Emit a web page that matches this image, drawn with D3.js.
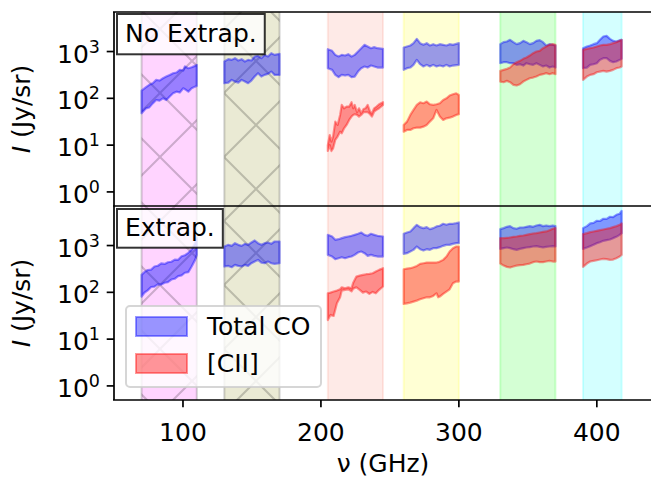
<!DOCTYPE html>
<html><head><meta charset="utf-8">
<script src="https://cdn.jsdelivr.net/npm/d3@7"></script>
<style>
html,body{margin:0;padding:0;background:#fff;}
text{font-family:"DejaVu Sans",sans-serif;}
</style></head>
<body><svg id="chart" width="651" height="479"></svg>
<script>
// ---------------- DATA ----------------
const bandRanges = [[70,110],[130,170],[205,245],[260,300],[330,370],[390,418]];
const bandColors = ["#ff00ff","#808000","#fa8072","#ffff00","#00ff00","#00ffff"];
const bandHatched = [true,true,false,false,false,false];
const xTicks = [100,200,300,400];
const yTickExps = [0,1,2,3];
const panelLabels = ["No Extrap.","Extrap."];
const seriesNames = ["Total CO","[CII]"];

// frequency grids (GHz)
const nu1 = [70,73.2,75.6,78.1,80.6,83.0,85.5,87.9,90.4,92.8,95.3,97.7,100.2,101.4,103.9,106.3,108.8,110];
const nu1b = [70,72.0,74.4,76.9,79.3,81.8,84.2,86.7,89.1,91.6,94.0,96.5,99.0,101.4,103.9,106.3,108.8,110];
const nu2 = [130,132.9,135.3,137.7,140.1,142.5,144.9,147.2,149.6,152,154.4,156.8,159.2,161.6,164,166.4,170];
const nu3 = [205,208.1,210.4,212.8,215.1,217.5,219.8,222.2,224.5,226.9,229.2,231.6,233.9,236.3,238.6,241,245];
const nu3c = [205,206.4,207.6,208.8,210.4,212.1,213.9,215.1,216.8,218.6,220.5,222.2,223.4,224.5,226.2,227.6,229.2,230.9,232.3,233.9,235.6,237,238.6,240.3,242.2,245];
const nu3cb = [205,206.9,209.2,211.6,213.9,215.1,217.5,219.8,222.2,223.4,225.7,228.1,230.4,232.8,235.1,237.5,239.8,242.2,245];
const nu4 = [260,262.4,264.8,267.1,269.5,271.9,274.3,276.7,279,281.4,283.8,286.2,288.6,291,293.3,295.7,300];
const nu4c = [260,262.4,264.8,267.1,269.5,271.9,274.3,276.7,279,281.4,283.8,286.2,288.6,291,293.3,295.7,298.1,300];
const nu4cb = [260,262.4,264.8,267.1,269.5,271.9,274.3,276.7,279,281.4,283.8,285,286.2,288.6,291,293.3,295.7,298.1,300];
const nu5 = [330,332.4,334.8,337.1,339.5,341.9,344.3,346.7,349,351.4,353.8,356.2,358.6,361,363.3,365.7,368.1,370];
const nu6 = [390,392.8,395.2,397.6,400,402.3,404.7,407.1,409.5,411.8,414.2,416.6,418];

// ---- No Extrap. (Jy/sr) ----
const noCoLo1 = [48,61,64,78,92,89,100,92,109,128,139,133,164,157,139,164,178,184];
const noCoHi1 = [146,173,194,210,248,240,269,292,317,344,356,406,393,479,441,463,494,519];
const noCoLo2 = [210,217,248,228,217,248,228,210,240,292,345,292,317,333,373,317,317];
const noCoHi2 = [612,687,664,721,643,687,612,664,643,783,809,721,849,783,923,849,893];
const noCoLo3 = [441,406,318,283,318,307,318,283,292,373,441,479,455,502,479,455,455];
const noCoHi3 = [1124,1035,849,783,849,822,879,783,849,1002,1180,1390,1282,1180,1241,1180,1143];
const noCiiLo3 = [7.5,10.0,7.5,8.5,12.9,15.2,19.4,17.9,22.9,27.0,34.5,40.7,44.2,45.6,44.2,40.7,44.2,50.4,50.4,50.4,45.6,40.7,52.0,56.5,61.3,72.3];
const noCiiHi3 = [10.0,16.4,11.9,15.2,31.8,27.0,44.2,72.3,61.3,66.5,66.5,82.4,61.3,72.3,50.4,61.3,47.9,59.3,61.3,72.3,52.0,47.9,61.3,66.5,74.6,82.4];
const noCoLo4 = [406,441,455,519,664,536,479,519,479,519,479,502,479,519,479,502,519];
const noCoHi4 = [1220,1282,1346,1511,1870,1511,1390,1511,1346,1439,1346,1439,1390,1346,1439,1390,1511];
const noCiiLo4 = [19.4,21.1,21.1,22.9,23.6,23.6,24.8,27.0,31.8,37.4,56.5,40.7,34.5,37.4,38.6,40.7,44.2,45.6];
const noCiiHi4 = [27.0,31.8,44.2,56.5,72.3,82.4,78.5,85.2,74.6,72.3,74.6,78.5,92.5,100,115,122,128,118];
const noCoLo5 = [564,592,592,564,564,519,536,502,564,536,519,564,519,479,502,455,479,455];
const noCoHi5 = [1439,1588,1640,1781,1588,1439,1511,1694,1588,1439,1511,1694,1750,1588,1346,1439,1390,1346];
const noCiiLo5 = [228,221,236,221,194,188,200,228,248,269,278,292,317,328,345,328,345,328];
const noCiiHi5 = [386,406,426,455,536,592,632,698,745,822,923,1002,1035,1180,1282,1390,1439,1390];
const noCoLo6 = [441,455,519,536,564,664,721,721,632,592,612,664,698];
const noCoHi6 = [1180,1282,1346,1439,1511,1781,2100,2168,1870,1694,1640,1750,1781];
const noCiiLo6 = [248,292,317,328,361,373,386,373,386,406,441,455,479];
const noCiiHi6 = [1087,1143,1180,1220,1282,1346,1390,1390,1439,1511,1588,1694,1781];

// ---- Extrap. (Jy/sr) ----
const exCoLo1 = [81,98,110,130,132,148,146,160,165,188,195,222,230,262,270,356,494,632];
const exCoHi1 = [236,270,300,305,356,370,415,405,440,450,500,495,590,620,700,820,1125,1439];
const exCoLo2 = [356,367,344,386,367,356,386,367,419,455,494,433,419,455,419,406,419];
const exCoHi2 = [953,1035,986,1125,1035,986,1087,1035,1161,1282,1125,1035,1125,1161,1087,1220,1220];
const exCoLo3 = [632,582,511,536,564,536,564,582,632,710,745,687,603,632,603,582,582];
const exCoHi3 = [1694,1560,1324,1368,1439,1511,1560,1614,1694,1781,1901,1694,1614,1781,1694,1614,1560];
const exCiiLo3 = [25.6,32.8,31.2,58.3,78.4,109,113,116,105,120,128,113,98.6,104,92.5,102,95.5,113,133];
const exCiiHi3 = [95.5,98.6,104,109,116,128,122,128,122,161,217,228,236,244,248,256,278,302,328];
const exCoLo4 = [664,687,745,809,953,836,783,836,809,879,879,923,986,1035,1035,1087,1125,1125];
const exCoHi4 = [1781,1901,1999,2355,2773,2472,2355,2472,2240,2355,2560,2644,2917,2773,2917,2917,3013,3113];
const exCiiLo4 = [56.5,58.3,60.3,63.2,66.5,71.0,74.6,78.4,78.4,83.7,95.5,78.4,81.1,92.5,104,116,156,170,170];
const exCiiHi4 = [312,322,328,344,367,406,419,433,433,433,433,441,455,494,582,745,879,953,953];
const exCoLo5 = [849,879,908,879,836,809,849,879,908,923,953,968,938,908,938,953,968,953];
const exCoHi5 = [2240,2355,2512,2600,2355,2280,2432,2432,2512,2600,2512,2685,2773,2600,2685,2600,2685,2600];
const exCiiLo5 = [412,373,350,339,356,373,380,386,399,412,441,455,441,441,455,471,455,455];
const exCiiHi5 = [1439,1439,1462,1486,1535,1560,1614,1640,1694,1750,1810,1840,1901,1963,1999,2133,2280,2355];
const exCoLo6 = [849,908,968,1035,1125,1180,1262,1303,1346,1439,1535,1694,1840];
const exCoHi6 = [2355,2600,2965,3050,3380,3350,3730,3700,4120,4050,4540,4800,5530];
const exCiiLo6 = [350,412,455,471,486,502,519,511,494,502,537,582,632];
const exCiiHi6 = [1750,1840,1932,1999,2065,2133,2203,2280,2355,2477,2600,2773,2965];

// ---------------- BUILD ----------------
const panels = [
  { label: panelLabels[0],
    co: [[nu1,noCoLo1,noCoHi1],[nu2,noCoLo2,noCoHi2],[nu3,noCoLo3,noCoHi3],[nu4,noCoLo4,noCoHi4],[nu5,noCoLo5,noCoHi5],[nu6,noCoLo6,noCoHi6]],
    cii: [[nu3c,noCiiLo3,noCiiHi3],[nu4c,noCiiLo4,noCiiHi4],[nu5,noCiiLo5,noCiiHi5],[nu6,noCiiLo6,noCiiHi6]] },
  { label: panelLabels[1],
    co: [[nu1b,exCoLo1,exCoHi1],[nu2,exCoLo2,exCoHi2],[nu3,exCoLo3,exCoHi3],[nu4c,exCoLo4,exCoHi4],[nu5,exCoLo5,exCoHi5],[nu6,exCoLo6,exCoHi6]],
    cii: [[nu3cb,exCiiLo3,exCiiHi3],[nu4cb,exCiiLo4,exCiiHi4],[nu5,exCiiLo5,exCiiHi5],[nu6,exCiiLo6,exCiiHi6]] }
];

const svg = d3.select("#chart");
const FS = 25;
const L = 114, R = 652;
const panelY = [[12,206],[206,400]];
const x = d3.scaleLinear().domain([50,440]).range([L,R]);

const defs = svg.append("defs");
const P = 64;
defs.append("pattern").attr("id","hatch").attr("patternUnits","userSpaceOnUse")
  .attr("x",160).attr("y",157).attr("width",P).attr("height",P)
  .append("path")
  .attr("d",`M-10,-10L${P+10},${P+10} M-10,${P-10}L10,${P+10} M${P-10},-10L${P+10},10 M${P+10},-10L-10,${P+10} M-10,10L10,-10 M${P-10},${P+10}L${P+10},${P-10}`)
  .attr("stroke","#000").attr("stroke-opacity",0.2).attr("stroke-width",2).attr("fill","none");

panels.forEach((p,pi)=>{
  const [top,bot] = panelY[pi];
  const y = d3.scaleLog().domain([0.5,7000]).range([bot,top]);
  defs.append("clipPath").attr("id","clip"+pi).append("rect")
    .attr("x",L).attr("y",top).attr("width",R-L).attr("height",bot-top);
  const g = svg.append("g").attr("clip-path",`url(#clip${pi})`);
  // bands
  bandRanges.forEach((b,i)=>{
    g.append("rect").attr("x",x(b[0])).attr("y",top-2).attr("width",x(b[1])-x(b[0])).attr("height",bot-top+4)
      .attr("fill",bandColors[i]).attr("fill-opacity",0.17)
      .attr("stroke",bandHatched[i]?"#000":bandColors[i]).attr("stroke-opacity",bandHatched[i]?0.18:0.17).attr("stroke-width",2);
    if(bandHatched[i]){
      g.append("rect").attr("x",x(b[0])).attr("y",top-2).attr("width",x(b[1])-x(b[0])).attr("height",bot-top+4)
        .attr("fill","url(#hatch)");
    }
  });
  const drawSet = (set,color)=>{
    set.forEach(([nu,lo,hi])=>{
      const pts = nu.map((f,k)=>[f,lo[k],hi[k]]);
      const d = "M" + pts.map(q=>`${x(q[0])},${y(q[2])}`).join("L") + "L" +
                pts.slice().reverse().map(q=>`${x(q[0])},${y(q[1])}`).join("L") + "Z";
      g.append("path").attr("d",d).attr("fill",color).attr("fill-opacity",0.4)
        .attr("stroke",color).attr("stroke-opacity",0.4).attr("stroke-width",2.2).attr("stroke-linejoin","round");
    });
  };
  drawSet(p.co,"#0000ff");
  drawSet(p.cii,"#ff0000");

  // y ticks
  yTickExps.forEach(e=>{
    const yy = y(Math.pow(10,e));
    svg.append("line").attr("x1",L-7.3).attr("x2",L).attr("y1",yy).attr("y2",yy).attr("stroke","#000").attr("stroke-width",1.7);
    const t = svg.append("text").attr("x",100).attr("y",yy+11).attr("text-anchor","end").attr("font-size",FS).attr("fill","#000");
    t.append("tspan").text("10");
    t.append("tspan").attr("dy",-10).attr("font-size",17.5).text(String(e));
  });
  // y label
  const yl = svg.append("text").attr("transform",`translate(30,${(top+bot)/2}) rotate(-90)`)
    .attr("text-anchor","middle").attr("font-size",FS);
  yl.append("tspan").attr("font-style","italic").text("I");
  yl.append("tspan").text(" (Jy/sr)");

  // text box
  const tb = svg.append("g");
  const tx = tb.append("text").attr("x",125).attr("y",pi===0?42:236).attr("font-size",FS).text(p.label);
  const bb = tx.node().getBBox();
  tb.insert("rect","text").attr("x",117).attr("y",pi===0?14:209).attr("width",bb.x+bb.width+8-117).attr("height",pi===0?40.3:38.7)
    .attr("fill","#fff").attr("fill-opacity",0.8).attr("stroke","#000").attr("stroke-opacity",0.8).attr("stroke-width",2);
});

// spines
[12,206,400].forEach(yy=>{
  svg.append("line").attr("x1",L-1).attr("x2",R).attr("y1",yy).attr("y2",yy).attr("stroke","#000").attr("stroke-width",1.7);
});
svg.append("line").attr("x1",L).attr("x2",L).attr("y1",12).attr("y2",400).attr("stroke","#000").attr("stroke-width",1.7);

// x axis
xTicks.forEach(v=>{
  svg.append("line").attr("x1",x(v)).attr("x2",x(v)).attr("y1",400).attr("y2",407.3).attr("stroke","#000").attr("stroke-width",1.7);
  svg.append("text").attr("x",x(v)).attr("y",441).attr("text-anchor","middle").attr("font-size",FS).text(v);
});
svg.append("text").attr("x",(L+R)/2).attr("y",472).attr("text-anchor","middle").attr("font-size",FS).text("ν (GHz)");

// legend
const lg = svg.append("g");
lg.append("rect").attr("x",126).attr("y",306).attr("width",195).attr("height",81).attr("rx",4)
  .attr("fill","#fff").attr("fill-opacity",0.8).attr("stroke","#ccc").attr("stroke-opacity",0.8).attr("stroke-width",2);
const legColors = ["#0000ff","#ff0000"];
seriesNames.forEach((n,i)=>{
  const yy = 317 + i*37;
  lg.append("rect").attr("x",136).attr("y",yy).attr("width",51).attr("height",19)
    .attr("fill",legColors[i]).attr("fill-opacity",0.4).attr("stroke",legColors[i]).attr("stroke-opacity",0.4).attr("stroke-width",2);
  lg.append("text").attr("x",207).attr("y",yy+18).attr("font-size",FS).text(n);
});
</script></body></html>
